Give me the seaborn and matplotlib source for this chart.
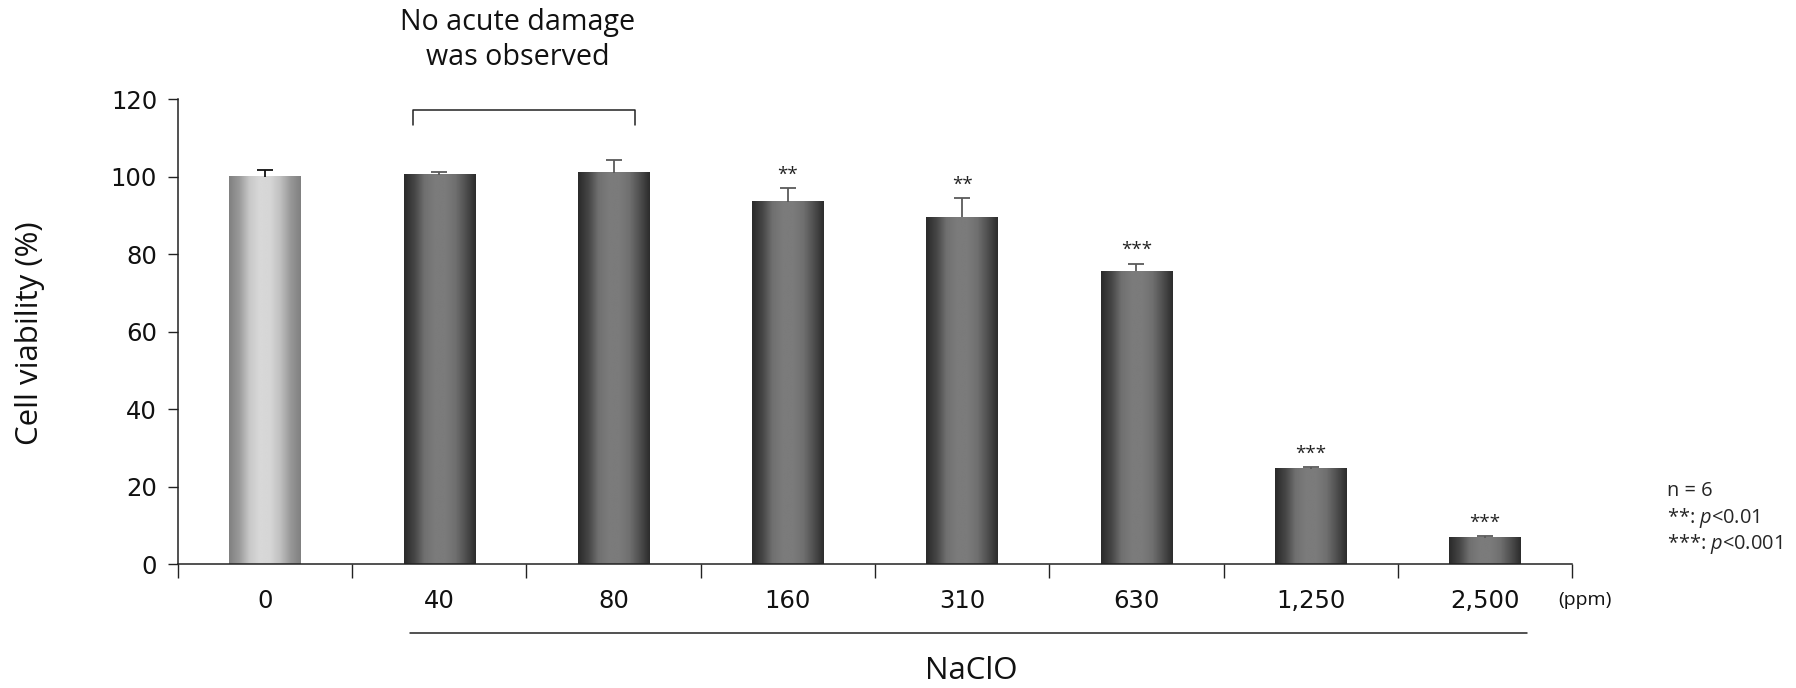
import matplotlib
matplotlib.use("Agg")
import matplotlib.pyplot as plt
import seaborn as sns
import numpy as np
import pandas as pd

# Data
doses = ["0", "40", "80", "160", "310", "630", "1,250", "2,500"]
viability = [100.0, 100.5, 101.0, 93.6, 89.5, 75.6, 24.6, 6.8]
sem = [1.7, 0.8, 3.4, 3.5, 5.0, 2.0, 0.5, 0.5]
stars = ["", "", "", "**", "**", "***", "***", "***"]

df = pd.DataFrame({"dose": doses, "viability": viability})

sns.set_style("white")
plt.rcParams["font.family"] = ["Open Sans", "Noto Sans CJK JP", "DejaVu Sans"]
plt.rcParams["mathtext.fontset"] = "custom"
plt.rcParams["mathtext.rm"] = "Open Sans"
plt.rcParams["mathtext.it"] = "Open Sans:italic"

fig = plt.figure(figsize=(17.96, 6.88), dpi=100)
ax = fig.add_axes([0.0991, 0.1798, 0.7762, 0.6759])

sns.barplot(data=df, x="dose", y="viability", order=doses, width=0.41,
            color="#666666", errorbar=None, ax=ax, zorder=2)

# gradient fill for each bar
light = np.array([0x80, 0x9a, 0xc8, 0xd8, 0xd6, 0xc0, 0x98, 0x80]) / 255
dark = np.array([0x2a, 0x45, 0x70, 0x7b, 0x7b, 0x70, 0x50, 0x2c]) / 255
for i, bar in enumerate(ax.patches):
    x0 = bar.get_x()
    w = bar.get_width()
    h = bar.get_height()
    prof = light if i == 0 else dark
    xs = np.linspace(0, 1, 200)
    vals = np.interp(xs, np.linspace(0, 1, len(prof)), prof)
    img = np.tile(vals, (2, 1))
    ax.imshow(img, cmap="gray", vmin=0, vmax=1, extent=(x0, x0 + w, 0, h),
              aspect="auto", interpolation="bilinear", zorder=2)
    bar.set_visible(False)

# upper error bars only
xpos = np.arange(len(doses))
for i in range(len(doses)):
    c = "#111111" if i == 0 else "#5a5a5a"
    eb = ax.errorbar(xpos[i], viability[i], yerr=[[0], [sem[i]]], fmt="none",
                     ecolor=c, elinewidth=1.3, capsize=6, capthick=1.3, zorder=3)
    eb[1][0].set_visible(False)  # hide the lower cap
    if stars[i]:
        ax.text(xpos[i], viability[i] + sem[i] + 1.2, stars[i], ha="center",
                va="bottom", fontsize=13.5, color="#222222")

ax.set_xlim(-0.5, len(doses) - 0.5)
ax.set_ylim(0, 120)
ax.set_yticks(range(0, 121, 20))
ax.tick_params(axis="y", which="major", direction="out", length=7, width=1,
               left=True, labelsize=17.5, pad=8, color="#222222")
ax.tick_params(axis="x", which="major", length=0, labelsize=17.5, pad=18)
ax.set_xticks(np.arange(-0.5, len(doses), 1.0), minor=True)
ax.tick_params(axis="x", which="minor", direction="out", length=10, width=1,
               bottom=True, color="#222222")
for lab in ax.get_xticklabels() + ax.get_yticklabels():
    lab.set_fontfamily("DejaVu Sans")
    lab.set_color("#111111")

for s in ["top", "right"]:
    ax.spines[s].set_visible(False)
for s in ["left", "bottom"]:
    ax.spines[s].set_color("#222222")
    ax.spines[s].set_linewidth(1.1)

ax.set_xlabel("")
ax.set_ylabel("")
fig.text(30 / 1796, 1 - 333 / 688, "Cell viability (%)", rotation=90,
         ha="center", va="center", fontsize=22.5, color="#111111")

# bracket over the 40 and 80 ppm bars
ax.plot([0.85, 0.85, 2.12, 2.12], [113.4, 117.2, 117.2, 113.4], color="#222222",
        lw=1.1, clip_on=False)
fig.text(518 / 1796, 1 - 40 / 688, "No acute damage\nwas observed", ha="center",
         va="center", fontsize=20.6, linespacing=1.25, color="#111111")

# NaClO line under the tick labels
ax.plot([0.83, 7.24], [-17.7, -17.7], color="#222222", lw=1.1, clip_on=False)
fig.text(971 / 1796, 1 - 679 / 688, "NaClO", ha="center", va="baseline",
         fontsize=22.5, color="#111111")
fig.text(1585 / 1796, 1 - 600 / 688, "(ppm)", ha="center", va="center",
         fontsize=14, color="#111111")

fig.text(1667 / 1796, 1 - 491 / 688, "n = 6", ha="left", va="center", fontsize=14.4)
fig.text(1667 / 1796, 1 - 518 / 688, r"**: $\it{p}$<0.01", ha="left",
         va="center", fontsize=14.4)
fig.text(1667 / 1796, 1 - 544 / 688, r"***: $\it{p}$<0.001", ha="left",
         va="center", fontsize=14.4)

fig.savefig("out.png", dpi=100)
